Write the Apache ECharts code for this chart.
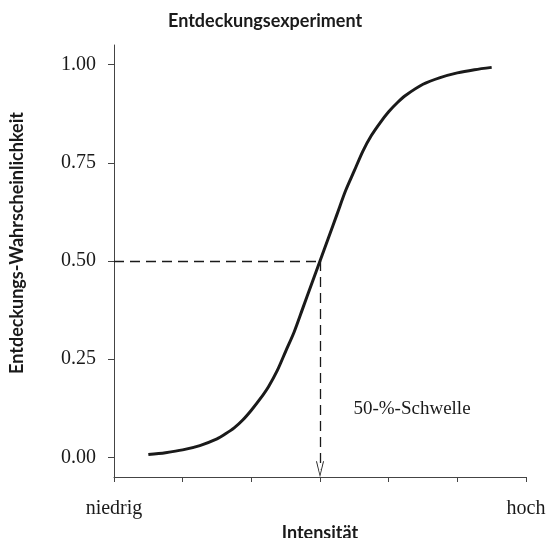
<!DOCTYPE html>
<html>
<head>
<meta charset="utf-8">
<script src="https://cdn.jsdelivr.net/npm/echarts@6/dist/echarts.min.js"></script>
<style>
  html, body { margin: 0; padding: 0; background: #fff; }
  #chart { width: 550px; height: 538px; }
</style>
</head>
<body>
<div id="chart"></div>
<script>
// intensity (arbitrary units, 0 = niedrig, 6 = hoch) and detection probability
const intensity = [0.5, 0.75, 1.0, 1.25, 1.5, 1.625, 1.75, 1.875, 2.0, 2.125, 2.25, 2.375, 2.5, 2.625, 2.75, 2.875, 3.0,
  3.125, 3.25, 3.375, 3.5, 3.625, 3.75, 3.875, 4.0, 4.125, 4.25, 4.5, 4.75, 5.0, 5.25, 5.5]
const probability = [0.007, 0.012, 0.019, 0.03, 0.047, 0.06, 0.075, 0.095, 0.12, 0.148, 0.18, 0.22, 0.27, 0.32, 0.38, 0.44, 0.5,
  0.56, 0.62, 0.68, 0.73, 0.78, 0.82, 0.852, 0.88, 0.903, 0.922, 0.95, 0.967, 0.979, 0.987, 0.993]
const xTickLabels = ['niedrig', '', '', '', '', '', 'hoch']
const yTickValues = [0, 0.25, 0.5, 0.75, 1.0]
const thresholdX = 3
const thresholdP = 0.5

const yMin = -0.05
const yMax = 1.05
const serif = '"Liberation Serif", "DejaVu Serif", serif'
const sans = 'Lato, "Open Sans", sans-serif'
const ink = '#1a1a1a'

const chart = echarts.init(document.getElementById('chart'))

chart.setOption({
  animation: false,
  title: {
    text: 'Entdeckungsexperiment',
    left: 163,
    top: 7,
    textStyle: { fontFamily: sans, fontWeight: 'bold', fontSize: 18, color: ink }
  },
  grid: { left: 114, right: 24, top: 45, bottom: 61, outerBoundsMode: 'none' },
  xAxis: {
    type: 'value',
    min: 0,
    max: 6,
    interval: 1,
    name: 'Intensität',
    nameLocation: 'middle',
    nameGap: 46,
    nameTextStyle: { fontFamily: sans, fontWeight: 'bold', fontSize: 18, color: ink },
    axisLine: { onZero: false, lineStyle: { color: '#444', width: 1 } },
    axisTick: { length: 5, lineStyle: { color: '#444' } },
    splitLine: { show: false },
    axisLabel: {
      margin: 22,
      fontFamily: serif,
      fontSize: 20,
      color: ink,
      formatter: v => xTickLabels[Math.round(v)] || ''
    }
  },
  yAxis: {
    type: 'value',
    min: yMin,
    max: yMax,
    axisLine: { show: true, onZero: false, lineStyle: { color: '#444', width: 1 } },
    axisTick: { show: true, length: 6, customValues: yTickValues, lineStyle: { color: '#444' } },
    splitLine: { show: false },
    axisLabel: {
      margin: 18,
      fontFamily: serif,
      fontSize: 20,
      color: ink,
      customValues: yTickValues,
      formatter: v => v.toFixed(2)
    }
  },
  graphic: [{
    type: 'text',
    x: 17,
    y: 243,
    rotation: Math.PI / 2,
    style: {
      text: 'Entdeckungs-Wahrscheinlichkeit',
      fontFamily: sans,
      fontWeight: 'bold',
      fontSize: 18,
      fill: ink,
      align: 'center',
      verticalAlign: 'middle'
    }
  }],
  series: [{
    type: 'line',
    data: intensity.map((x, i) => [x, probability[i]]),
    smooth: 0.3,
    symbol: 'none',
    lineStyle: { color: ink, width: 3 },
    markLine: {
      silent: true,
      symbol: ['none', 'none'],
      label: { show: false },
      lineStyle: { color: ink, width: 1.3, type: [10, 6] },
      data: [
        [{ coord: [0, thresholdP] }, { coord: [thresholdX, thresholdP] }],
        [
          { coord: [thresholdX, thresholdP], symbol: 'none' },
          // arrow symbol is centred on the end point, so stop half its length above the axis
          { coord: [thresholdX, yMin + 0.02], symbol: 'path://M5,0 L10,16 L8.8,16 L5,3 L1.2,16 L0,16 Z', symbolSize: [8, 16] }
        ]
      ]
    },
    markPoint: {
      silent: true,
      symbol: 'circle',
      symbolSize: 1,
      itemStyle: { color: 'rgba(0,0,0,0)' },
      data: [{ coord: [3.48, 0.124], value: '' }],
      label: {
        show: true,
        position: 'right',
        distance: 0,
        formatter: '50-%-Schwelle',
        fontFamily: serif,
        fontSize: 19,
        color: ink
      }
    }
  }]
})
</script>
</body>
</html>
